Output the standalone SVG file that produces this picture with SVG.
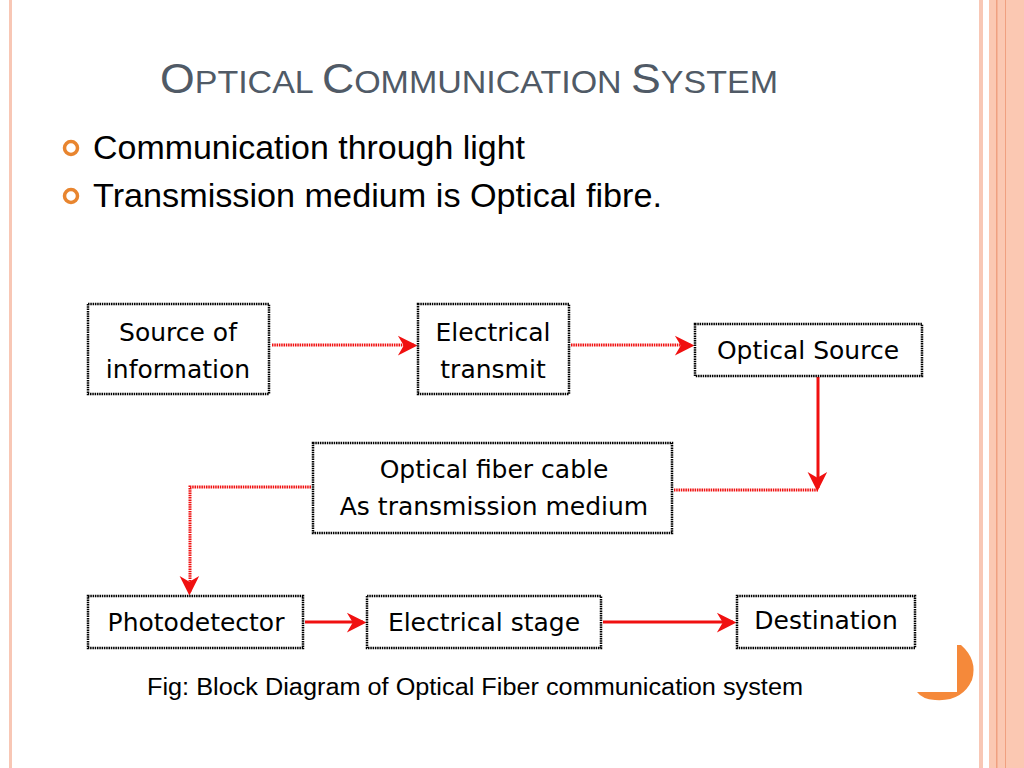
<svg xmlns="http://www.w3.org/2000/svg" width="1024" height="768" viewBox="0 0 1024 768">
<defs>
<style>
.box{fill:#fff;stroke:#000;stroke-width:2.5;stroke-dasharray:1.5 0.8}
.t{font-family:"DejaVu Sans",sans-serif;font-size:25px;fill:#000;text-anchor:middle}
.c{fill:none;stroke:#f01010;stroke-width:3}
.d{stroke-dasharray:1.5 0.8}
.b{font-family:"Liberation Sans",Arial,sans-serif;font-size:33px;fill:#000}
</style>
<marker id="ah" viewBox="0 0 10 10" refX="9" refY="5" markerWidth="7" markerHeight="7" markerUnits="userSpaceOnUse" orient="auto" overflow="visible">
<path d="M0,0 L10,5 L0,10 L3,5 Z" fill="#f01010" transform="scale(2.8) translate(-5,-2.9)"/>
</marker>
</defs>
<rect width="1024" height="768" fill="#fff"/>
<rect x="9" y="0" width="3" height="768" fill="#f8c7b5"/>
<rect x="979" y="0" width="4" height="768" fill="#f8c7b5"/>
<rect x="989" y="0" width="35" height="768" fill="#fbc8b2"/>
<rect x="996" y="0" width="1.5" height="768" fill="#f0a080"/>
<rect x="1005" y="0" width="1" height="768" fill="#f0a080"/>
<path d="M961,645 Q978,660 972,680 Q962,702 935,700 Q922,699 917,692 L957,692 L957,645 Z" fill="#f5893a"/>
<text x="160" y="93" font-family="Liberation Sans,Arial,sans-serif" font-size="42" fill="#505a66" textLength="618" lengthAdjust="spacingAndGlyphs">O<tspan font-size="32">PTICAL </tspan>C<tspan font-size="32">OMMUNICATION </tspan>S<tspan font-size="32">YSTEM</tspan></text>
<circle cx="71" cy="148" r="6.5" fill="none" stroke="#e8852f" stroke-width="3.5"/>
<circle cx="71" cy="196" r="6.5" fill="none" stroke="#e8852f" stroke-width="3.5"/>
<text class="b" x="93" y="159" textLength="432" lengthAdjust="spacingAndGlyphs">Communication through light</text>
<text class="b" x="93" y="207" textLength="569" lengthAdjust="spacingAndGlyphs">Transmission medium is Optical fibre.</text>
<g id="connectors">
<path class="c d" d="M272,345 H414" marker-end="url(#ah)"/>
<path class="c d" d="M571,345 H691" marker-end="url(#ah)"/>
<path class="c" d="M818,377 V488" marker-end="url(#ah)"/>
<path class="c d" d="M818,490 H674"/>
<path class="c d" d="M311,487 H190 V592" marker-end="url(#ah)"/>
<path class="c" d="M305,622 H363" marker-end="url(#ah)"/>
<path class="c" d="M603,622 H733" marker-end="url(#ah)"/>
</g>
<g id="n1"><rect class="box" x="88" y="304" width="181" height="90"/><text class="t" x="178" y="341">Source of</text><text class="t" x="178" y="378">information</text></g>
<g id="n2"><rect class="box" x="418" y="304" width="151" height="90"/><text class="t" x="493" y="341">Electrical</text><text class="t" x="493" y="378">transmit</text></g>
<g id="n3"><rect class="box" x="695" y="324" width="227" height="52"/><text class="t" x="808" y="359">Optical Source</text></g>
<g id="n4"><rect class="box" x="313" y="443" width="359" height="90"/><text class="t" x="494" y="478">Optical fiber cable</text><text class="t" x="494" y="515">As transmission medium</text></g>
<g id="n5"><rect class="box" x="88" y="596" width="215" height="52"/><text class="t" x="196" y="631">Photodetector</text></g>
<g id="n6"><rect class="box" x="367" y="596" width="234" height="52"/><text class="t" x="484" y="631">Electrical stage</text></g>
<g id="n7"><rect class="box" x="737" y="596" width="178" height="52"/><text class="t" x="826" y="629">Destination</text></g>
<text x="147" y="695" font-family="Liberation Sans,Arial,sans-serif" font-size="23.5" fill="#000" textLength="656" lengthAdjust="spacingAndGlyphs">Fig: Block Diagram of Optical Fiber communication system</text>
</svg>
